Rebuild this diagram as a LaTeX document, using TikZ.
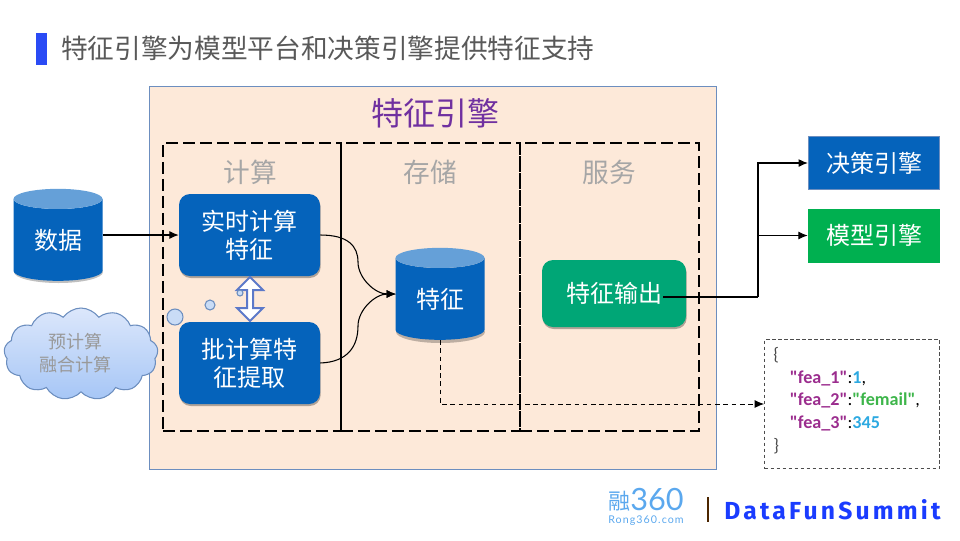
\documentclass[tikz,border=0pt]{standalone}
\usepackage{fontspec}
\setmainfont{Noto Sans CJK SC}
\newfontfamily\jsonfont{Carlito}
\newfontfamily\logofont[LetterSpace=13]{Fira Sans}
\newfontfamily\ronglogo{Lato}
\newfontfamily\rongurlfont[LetterSpace=10]{Lato}
\usetikzlibrary{shapes.geometric,shapes.symbols,shapes.arrows,shadows,arrows.meta}
\def\px{0.75pt}
\definecolor{panelbg}{HTML}{FDE9D9}
\definecolor{panelline}{HTML}{6C8EBF}
\definecolor{boxblue}{HTML}{0563BB}
\definecolor{capblue}{HTML}{65A0D8}
\definecolor{boxgreen}{HTML}{00A676}
\definecolor{modelgreen}{HTML}{00B050}
\definecolor{titleblue}{HTML}{2A4BF5}
\definecolor{brandblue}{HTML}{1A3CFF}
\definecolor{logoblue}{HTML}{5BA8EE}
\definecolor{jsonkey}{HTML}{9B2D8E}
\definecolor{jsonnum}{HTML}{2CA9E1}
\definecolor{jsonstr}{HTML}{3DB54A}
\definecolor{cloudtop}{HTML}{DCE7FB}
\definecolor{cloudbottom}{HTML}{A6C6F6}
\definecolor{bubblefill}{HTML}{C9DCF6}
\definecolor{enginepurple}{HTML}{7030A0}
\begin{document}
\begin{tikzpicture}[x=\px,y=-\px,
  softshadow/.style={drop shadow={shadow xshift=0.5pt,shadow yshift=-1.5pt,fill=black,opacity=0.3}},
  roundbox/.style={rounded corners=11*\px,text=white,align=center,font=\fontsize{18}{21}\selectfont,softshadow},
  flatbox/.style={text=white,font=\fontsize{18}{21}\selectfont,minimum width=132*\px,minimum height=54*\px},
  store/.style={cylinder,shape border rotate=90,aspect=0.42,cylinder uses custom fill,
    cylinder body fill=boxblue,cylinder end fill=capblue,text=white,font=\fontsize{18}{21}\selectfont,
    minimum width=89*\px,minimum height=92*\px,inner sep=0pt},
  section/.style={draw=black,dash pattern=on 9pt off 3.75pt,line width=1.4pt,minimum width=178*\px,minimum height=288*\px,anchor=north west},
  head/.style={text=black!35,font=\fontsize{20}{22}\selectfont},
  conn/.style={-{Latex[length=7pt,width=6pt]},line width=0.8pt,black},
  bubble/.style={circle,draw=panelline,fill=bubblefill,line width=0.8pt,inner sep=0pt}]
\useasboundingbox (0,0) rectangle (960,540);
% page title
\fill[titleblue] (36,33) rectangle (47,65);
\node[anchor=west,text=black!65,font=\fontsize{20}{22}\selectfont,inner sep=0pt] (pagetitle) at (61,48)
  {特征引擎为模型平台和决策引擎提供特征支持};
% engine panel with its three sections
\node[draw=panelline,fill=panelbg,line width=0.8pt,minimum width=567*\px,minimum height=383*\px,anchor=north west] (panel) at (149,86) {};
\node[text=enginepurple,font=\fontsize{24}{26}\selectfont] (paneltitle) at (435,113) {特征引擎};
\node[section] (calc) at (162,142) {};
\node[section,minimum width=179*\px] (keep) at (340,142) {};
\node[section,minimum width=179*\px] (serve) at (519,142) {};
\foreach \x/\lab/\nm in {250/计算/calchead, 430/存储/keephead, 609/服务/servehead}
  {\node[head] (\nm) at (\x,172) {\lab};}
% sources
\fill[black,opacity=0.25] (58.5,272) ellipse (44.5 and 11);
\node[store] (data) at (58,240) {\raisebox{-2pt}{数据}};
\node[cloud,cloud puffs=13,cloud puff arc=110,aspect=1.7,draw=panelline,line width=0.8pt,
  top color=cloudtop,bottom color=cloudbottom,
  minimum width=154*\px,minimum height=92*\px,inner sep=0pt] (cloudcalc) at (81,354) {};
\node[text=black!40,align=center,font=\fontsize{13.5}{17.5}\selectfont] (cloudtext) at (75,353) {预计算\\融合计算};
% compute boxes
\node[roundbox,fill=boxblue,minimum width=141*\px,minimum height=82*\px] (realtime) at (249.5,235) {实时计算\\特征};
\node[roundbox,fill=boxblue,minimum width=141*\px,minimum height=82*\px] (batch) at (249.5,363) {批计算特\\征提取};
\node[double arrow,draw=panelline!85!blue,fill=white,line width=1.5pt,rotate=90,inner sep=0pt,
  minimum height=44*\px,minimum width=26*\px,double arrow head extend=2.5pt] (swap) at (250,299) {};
\foreach \x/\y/\d/\nm in {175/317/16/bubblea, 210/305/10/bubbleb, 240/293/6/bubblec}
  {\node[bubble,minimum size=\d*\px] (\nm) at (\x,\y) {};}
% store and output
\fill[black,opacity=0.25] (440.5,332) ellipse (44.5 and 11);
\node[store] (feature) at (440,299) {\raisebox{-2pt}{特征}};
\node[roundbox,fill=boxgreen,minimum width=144*\px,minimum height=67*\px] (output) at (614,293.5) {特征输出};
% consumers
\node[flatbox,fill=boxblue,draw=panelline,line width=1pt,minimum width=131*\px,minimum height=53*\px] (decision) at (874,163) {决策引擎};
\node[flatbox,fill=modelgreen] (model) at (874,235.5) {模型引擎};
% sample record
\node[draw=black!70,dash pattern=on 2.5pt off 2pt,line width=0.9pt,minimum width=175*\px,minimum height=129*\px,
  anchor=north west,inner sep=0pt] (record) at (764,339) {};
\node[anchor=north west,align=left,inner sep=0pt,font=\jsonfont\bfseries\fontsize{13.6}{17}\selectfont] (recordtext) at (773,347)
  {{\mdseries\color{black!70}\{}\\
   \hspace*{12.5pt}\textcolor{jsonkey}{"fea\_1"}{\mdseries:}\textcolor{jsonnum}{1}{\mdseries,}\\
   \hspace*{12.5pt}\textcolor{jsonkey}{"fea\_2"}{\mdseries:}\textcolor{jsonstr}{"femail"}{\mdseries,}\\
   \hspace*{12.5pt}\textcolor{jsonkey}{"fea\_3"}{\mdseries:}\textcolor{jsonnum}{345}\\
   {\mdseries\color{black!70}\}}};
% connectors
\coordinate (fork) at (758,297);
\coordinate (outstart) at (663,297);
\coordinate (featin) at (396,294);
\coordinate (dropcorner) at (440,404);
\draw[conn] (data.east |- realtime.west) -- (realtime.west);
\draw[conn] (realtime.east) .. controls (348,235) and (358,246) .. (358,262) .. controls (358,278) and (375,294) .. (featin);
\draw[conn] (batch.east) .. controls (348,362) and (358,346) .. (358,326) .. controls (358,310) and (375,294) .. (featin);
\draw[line width=0.8pt] (outstart) -- (fork);
\draw[conn] (fork) |- (decision.west);
\draw[conn] (fork) |- (model.west);
\draw[conn,dash pattern=on 3.5pt off 2.7pt,line width=0.7pt] (feature.south) |- (record.west |- dropcorner);
% footer logos
\node[anchor=west,inner sep=0pt,text=logoblue,font=\fontsize{16.5}{17}\selectfont] (rongmark) at (608,501) {融};
\node[anchor=west,inner sep=0pt,text=logoblue,font=\ronglogo\fontsize{23}{23}\selectfont] (rongnum) at (630,500) {360};
\node[anchor=west,inner sep=0pt,text=logoblue,font=\rongurlfont\fontsize{8}{8}\selectfont] (rongurl) at (608,521) {Rong360.com};
\draw[black!70!orange,line width=1pt] (708,497) -- (708,522);
\node[anchor=west,inner sep=0pt,text=brandblue,font=\logofont\bfseries\fontsize{18.5}{20}\selectfont] (brand) at (724,510) {DataFunSummit};
\end{tikzpicture}
\end{document}
